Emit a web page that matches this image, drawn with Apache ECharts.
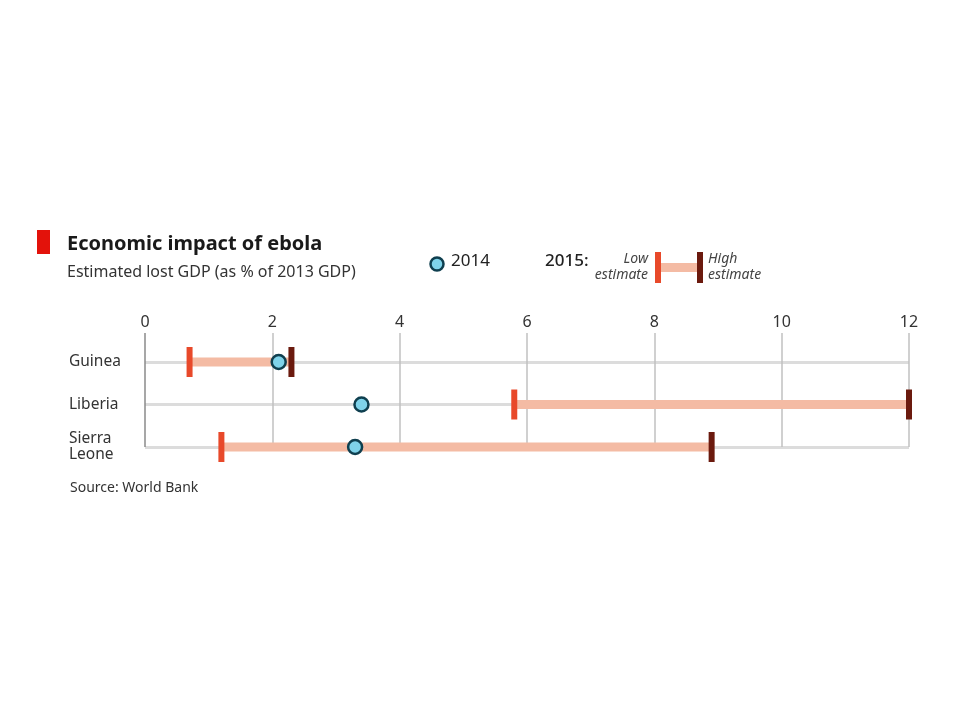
<!DOCTYPE html>
<html><head><meta charset="utf-8">
<script src="https://cdn.jsdelivr.net/npm/echarts@6/dist/echarts.min.js"></script>
<style>html,body{margin:0;padding:0;background:#fff}#c{width:960px;height:720px}</style>
</head><body><div id="c"></div>
<script>
const countries = ['Guinea', 'Liberia', 'Sierra\nLeone'];
const est2014 = [2.1, 3.4, 3.3];
const low2015 = [0.7, 5.8, 1.2];
const high2015 = [2.3, 12.0, 8.9];
const xTicks = [0, 2, 4, 6, 8, 10, 12];

const FONT = '"Noto Sans", sans-serif';
const chart = echarts.init(document.getElementById('c'));

const rangeData = countries.map((c, i) => [low2015[i], high2015[i], i]);
const dotData = countries.map((c, i) => [est2014[i], i]);
const gridColors = xTicks.map((t, i) => i === 0 ? '#8a8a8a' : '#c0c0c0');

chart.setOption({
  animation: false,
  backgroundColor: '#fff',
  textStyle: { fontFamily: FONT },
  grid: [
    { left: 145, right: 51, top: 362, bottom: 273, containLabel: false },
    { left: 145, right: 51, top: 333, height: 29, containLabel: false }
  ],
  xAxis: [
    { type: 'value', gridIndex: 0, min: xTicks[0], max: xTicks[xTicks.length - 1], interval: 2,
      position: 'top',
      axisLine: { show: false }, axisTick: { show: false }, axisLabel: { show: false },
      splitLine: { show: true, lineStyle: { color: gridColors, width: 1.5 } } },
    { type: 'value', gridIndex: 1, min: xTicks[0], max: xTicks[xTicks.length - 1], interval: 2,
      position: 'top',
      axisLine: { show: false }, axisTick: { show: false },
      axisLabel: { show: true, margin: 3, fontSize: 16, color: '#333', fontFamily: FONT },
      splitLine: { show: true, lineStyle: { color: gridColors, width: 1.5 } } }
  ],
  yAxis: [
    { type: 'category', gridIndex: 0, data: countries, inverse: true, boundaryGap: false,
      axisLine: { show: false }, axisTick: { show: false },
      axisLabel: { align: 'left', margin: 76, fontSize: 15.5, color: '#333', lineHeight: 16, fontFamily: FONT },
      splitLine: { show: true, lineStyle: { color: '#dcdcdc', width: 3 } } },
    { type: 'value', gridIndex: 1, show: false, min: 0, max: 1 }
  ],
  series: [
    {
      type: 'custom', xAxisIndex: 0, yAxisIndex: 0, z: 3,
      data: rangeData,
      encode: { x: [0, 1], y: 2 },
      renderItem: function (params, api) {
        const p0 = api.coord([api.value(0), api.value(2)]);
        const p1 = api.coord([api.value(1), api.value(2)]);
        const barH = 9, capW = 6, capH = 30;
        return {
          type: 'group',
          children: [
            { type: 'rect', shape: { x: p0[0], y: p0[1] - barH / 2, width: p1[0] - p0[0], height: barH },
              style: { fill: '#f4bba4' } },
            { type: 'rect', shape: { x: p0[0] - capW / 2, y: p0[1] - capH / 2, width: capW, height: capH },
              style: { fill: '#e8492a' } },
            { type: 'rect', shape: { x: p1[0] - capW / 2, y: p1[1] - capH / 2, width: capW, height: capH },
              style: { fill: '#6b1a0e' } }
          ]
        };
      }
    },
    {
      type: 'scatter', xAxisIndex: 0, yAxisIndex: 0, z: 5,
      data: dotData, symbol: 'circle', symbolSize: 14,
      itemStyle: { color: '#7fd3ea', borderColor: '#0f3f4f', borderWidth: 2.5, opacity: 1 }
    }
  ],
  graphic: [
    { type: 'rect', left: 37, top: 230, shape: { width: 13, height: 24 }, style: { fill: '#e3120b' } },
    { type: 'text', left: 67, top: 234, style: { text: 'Economic impact of ebola', font: 'bold 20px ' + FONT, fill: '#1a1a1a' } },
    { type: 'text', left: 67, top: 264, style: { text: 'Estimated lost GDP (as % of 2013 GDP)', font: '16px ' + FONT, fill: '#333' } },
    { type: 'circle', shape: { cx: 437, cy: 264, r: 6.5 }, style: { fill: '#7fd3ea', stroke: '#0f3f4f', lineWidth: 2.5 } },
    { type: 'text', left: 451, top: 253, style: { text: '2014', font: '17px ' + FONT, fill: '#222' } },
    { type: 'text', left: 545, top: 253, style: { text: '2015:', font: '500 17px ' + FONT, fill: '#222' } },
    { type: 'text', x: 648, y: 251, style: { text: 'Low\nestimate', font: 'italic 14px ' + FONT, fill: '#444', align: 'right', lineHeight: 16 } },
    { type: 'rect', shape: { x: 658, y: 263, width: 42, height: 9 }, style: { fill: '#f4bba4' } },
    { type: 'rect', shape: { x: 655, y: 252, width: 6, height: 31 }, style: { fill: '#e8492a' } },
    { type: 'rect', shape: { x: 697, y: 252, width: 6, height: 31 }, style: { fill: '#6b1a0e' } },
    { type: 'text', x: 708, y: 251, style: { text: 'High\nestimate', font: 'italic 14px ' + FONT, fill: '#444', align: 'left', lineHeight: 16 } },
    { type: 'text', left: 70, top: 481, style: { text: 'Source: World Bank', font: '14px ' + FONT, fill: '#333' } }
  ]
});
</script>
</body></html>
